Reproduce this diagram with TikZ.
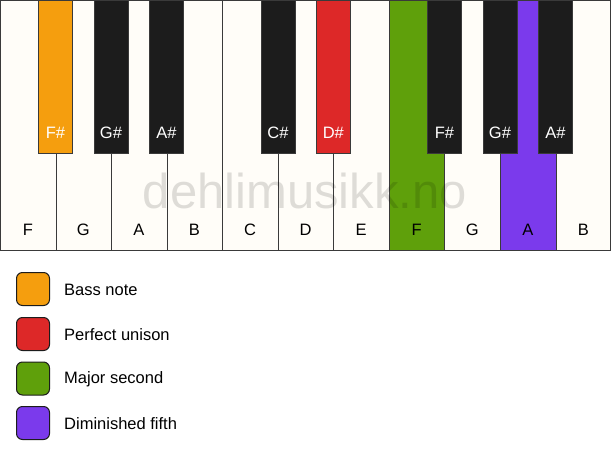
\documentclass[tikz,border=0pt]{standalone}
\usepackage{fontspec}
\setmainfont{Liberation Sans}
\definecolor{keywhite}{HTML}{FFFDF8}
\definecolor{keyblack}{HTML}{1C1C1C}
\definecolor{keyline}{HTML}{3A3A3A}
\definecolor{cbass}{HTML}{F59E0E}
\definecolor{cuni}{HTML}{DD2828}
\definecolor{csec}{HTML}{5FA00B}
\definecolor{cfifth}{HTML}{7B3AEC}
\begin{document}
\begin{tikzpicture}[x=1pt,y=-1pt,
  whitekey/.style={draw=keyline,line width=1pt,fill=keywhite,minimum width=55.55pt,minimum height=250pt,inner sep=0pt,anchor=north west},
  blackkey/.style={draw=keyline,line width=1pt,fill=keyblack,minimum width=34pt,minimum height=153pt,inner sep=0pt,anchor=north},
  wlabel/.style={font=\fontsize{16.5}{18}\selectfont,text=black},
  blabel/.style={font=\fontsize{16.5}{18}\selectfont,text=white},
  legbox/.style={draw=keyblack,line width=1pt,rounded corners=6pt,minimum size=33pt,inner sep=0pt},
  legtext/.style={font=\fontsize{16.5}{19}\selectfont,anchor=west,inner sep=0pt}]
\useasboundingbox (0,0) rectangle (611,461);
\fill[white] (0,0) rectangle (611,461);
% white keys
\foreach \n/\lab/\col [count=\i from 0] in {wF/F/keywhite,wG/G/keywhite,wA/A/keywhite,wB/B/keywhite,wC/C/keywhite,wD/D/keywhite,wE/E/keywhite,wF2/F/csec,wG2/G/keywhite,wA2/A/cfifth,wB2/B/keywhite}{
  \node[whitekey,fill=\col] (\n) at ({\i*55.55},0) {};
  \node[wlabel] (\n-l) at ({\i*55.55+27.8},230) {\lab};
}
% black keys
\foreach \n/\lab/\xx/\col in {bF/F\#/55.5/cbass,bG/G\#/111/keyblack,bA/A\#/166.5/keyblack,bC/C\#/278/keyblack,bD/D\#/333.3/cuni,bF2/F\#/444.4/keyblack,bG2/G\#/500/keyblack,bA2/A\#/555.5/keyblack}{
  \node[blackkey,fill=\col] (\n) at (\xx,0) {};
  \node[blabel] (\n-l) at (\xx,133) {\lab};
}
\draw[keyline,line width=1pt] (0,0.5) rectangle (610.5,250);
% watermark
\node[font=\fontsize{49}{54}\selectfont,text=black,opacity=0.13] (wm) at (305,191) {dehlimusikk.no};
% legend
\node[legbox,fill=cbass] (l1) at (33,289) {};
\node[legbox,fill=cuni] (l2) at (33,334) {};
\node[legbox,fill=csec] (l3) at (33,378.5) {};
\node[legbox,fill=cfifth] (l4) at (33,423) {};
\node[legtext] (t1) at (64,290) {Bass note};
\node[legtext] (t2) at (64,334.5) {Perfect unison};
\node[legtext] (t3) at (64,379) {Major second};
\node[legtext] (t4) at (64,423.5) {Diminished fifth};
\end{tikzpicture}
\end{document}
